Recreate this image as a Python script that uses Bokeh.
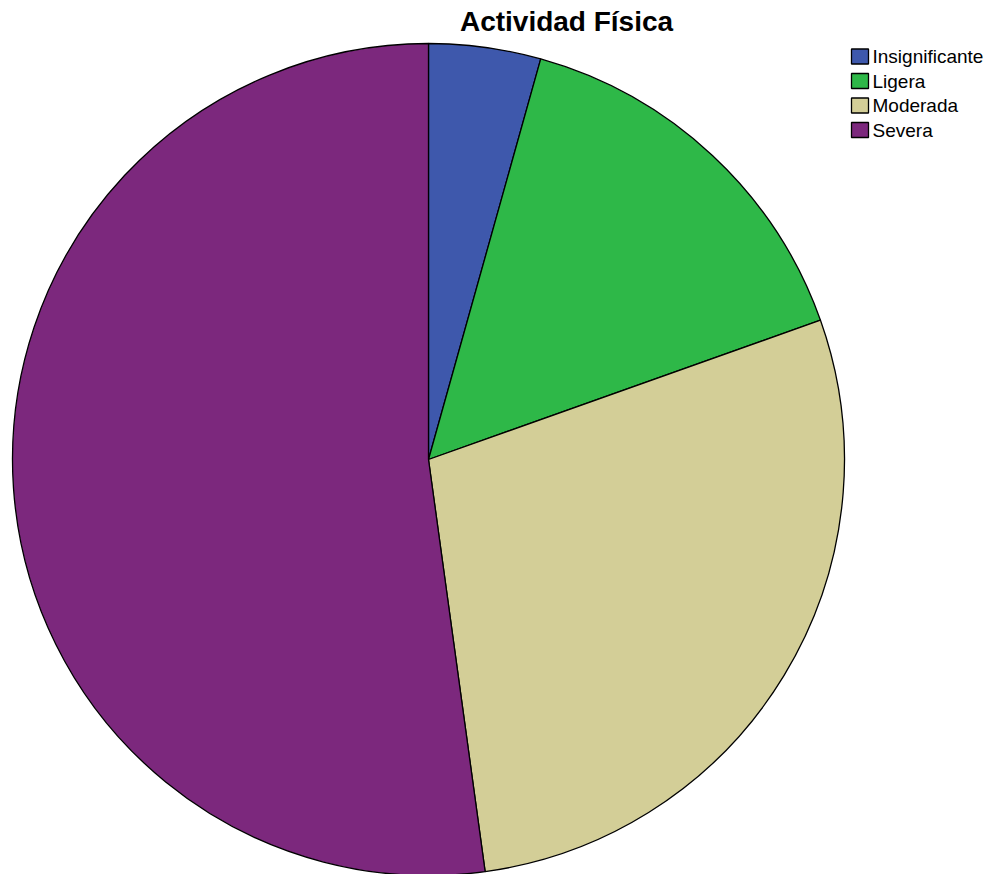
import math
from bokeh.plotting import figure
from bokeh.models import ColumnDataSource, Range1d
from bokeh.core.properties import value
from bokeh.embed import file_html
from bokeh.resources import INLINE

categories = ["Insignificante", "Ligera", "Moderada", "Severa"]
counts = [2, 7, 13, 24]
colors = ["#3E58AC", "#2EB848", "#D3CE97", "#7C287D"]
title = "Actividad Física"

W, H = 991, 874
p = figure(width=W, height=H, output_backend="svg", toolbar_location=None,
           x_range=Range1d(0, W), y_range=Range1d(0, H),
           min_border=0, min_border_left=0, min_border_right=0,
           min_border_top=0, min_border_bottom=0)
p.axis.visible = False
p.grid.visible = False
p.outline_line_color = None
p.background_fill_color = "white"
p.border_fill_color = "white"

total = sum(counts)
starts, ends = [], []
acc = 0
for c in counts:
    a0 = math.pi / 2 - 2 * math.pi * acc / total
    acc += c
    a1 = math.pi / 2 - 2 * math.pi * acc / total
    starts.append(a0)
    ends.append(a1)

cx, cy, r = 428, H - 459, 416
src = ColumnDataSource(dict(cat=categories, start=starts, end=ends, color=colors))
p.wedge(x=cx, y=cy, radius=r, start_angle="start", end_angle="end",
        direction="clock", fill_color="color", line_color="black",
        line_width=1.3, source=src)

# title
p.text(x=[566], y=[H - 21], text=[title], text_font=value("Liberation Sans"),
       text_font_size="28px", text_font_style="bold", text_align="center",
       text_baseline="middle", text_color="black")

# legend
ly = [H - (56 + 24.5 * i) for i in range(len(categories))]
lsrc = ColumnDataSource(dict(x=[859.5] * 4, y=ly, color=colors, cat=categories,
                             tx=[872] * 4))
p.rect(x="x", y="y", width=17, height=15, fill_color="color", line_color="black",
       line_width=1.3, source=lsrc)
p.text(x="tx", y="y", text="cat", text_font=value("Liberation Sans"),
       text_font_size="19px", text_baseline="middle", text_color="black",
       source=lsrc)

open("out.html", "w").write(file_html(p, INLINE))
